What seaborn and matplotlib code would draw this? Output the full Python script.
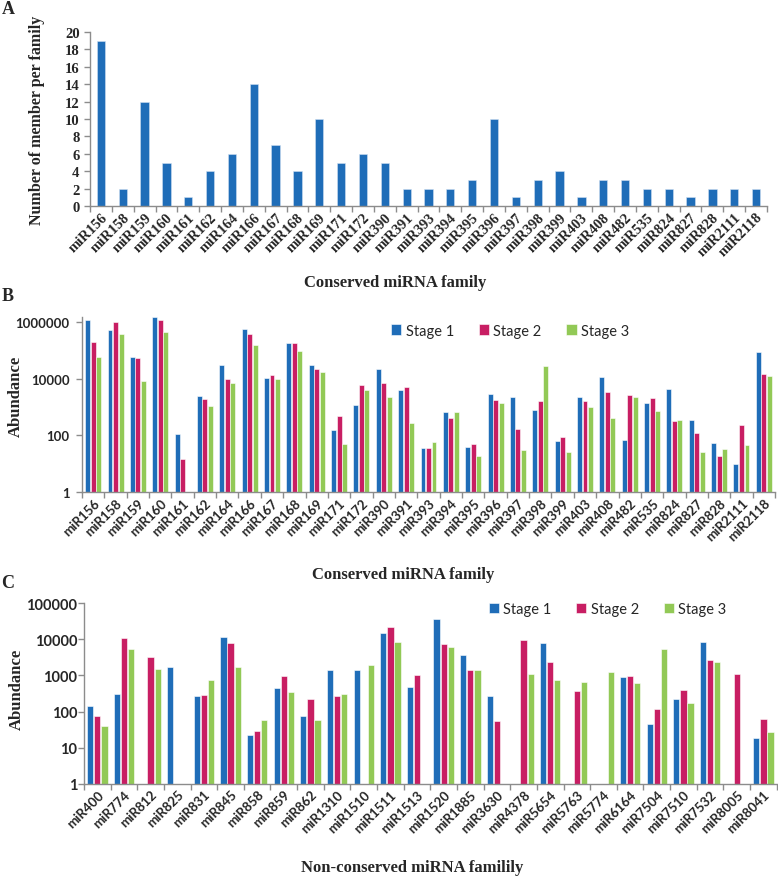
import numpy as np
import pandas as pd
import matplotlib
matplotlib.use("Agg")
import matplotlib.pyplot as plt
import seaborn as sns
from matplotlib.ticker import NullLocator

# panel A: members per conserved family
families_a = ["miR156", "miR158", "miR159", "miR160", "miR161", "miR162", "miR164",
              "miR166", "miR167", "miR168", "miR169", "miR171", "miR172", "miR390",
              "miR391", "miR393", "miR394", "miR395", "miR396", "miR397", "miR398",
              "miR399", "miR403", "miR408", "miR482", "miR535", "miR824", "miR827",
              "miR828", "miR2111", "miR2118"]
members_a = [19, 2, 12, 5, 1, 4, 6, 14, 7, 4, 10, 5, 6, 5, 2, 2, 2, 3, 10, 1, 3,
             4, 1, 3, 3, 2, 2, 1, 2, 2, 2]

# panel B: abundance of conserved families per stage
stage1_b = [1.2e6, 5.5e5, 5.8e4, 1.5e6, 114, 2400, 31000, 5.6e5, 11000, 1.86e5,
            31000, 158, 1200, 23000, 4100, 35, 700, 39, 2800, 2300, 780, 63, 2200,
            12000, 69, 1400, 4400, 350, 55, 10, 92000]
stage2_b = [2.0e5, 1.0e6, 5.4e4, 1.2e6, 15, 1960, 9700, 4.0e5, 14000, 1.86e5,
            22000, 480, 6100, 7200, 5200, 35, 420, 49, 1800, 172, 1600, 85, 1600,
            3400, 2600, 2100, 320, 124, 18, 225, 15000]
stage3_b = [6.0e4, 3.7e5, 8700, 4.4e5, 0, 1100, 7200, 1.6e5, 9500, 1.0e5, 18000,
            51, 4200, 2200, 272, 58, 650, 18, 1400, 30, 28000, 26, 1050, 400, 2300,
            720, 340, 27, 33, 47, 13000]

# panel C: abundance of non-conserved families per stage
families_c = ["miR400", "miR774", "miR812", "miR825", "miR831", "miR845", "miR858",
              "miR859", "miR862", "miR1310", "miR1510", "miR1511", "miR1513",
              "miR1520", "miR1885", "miR3630", "miR4378", "miR5654", "miR5763",
              "miR5774", "miR6164", "miR7504", "miR7510", "miR7532", "miR8005",
              "miR8041"]
stage1_c = [147, 310, 0, 1700, 270, 11800, 22, 445, 76, 1400, 1400, 15000, 485,
            36000, 3800, 268, 0, 8100, 0, 0, 880, 45, 220, 8300, 0, 18]
stage2_c = [73, 11000, 3200, 0, 296, 7900, 28, 960, 220, 272, 0, 22000, 1000, 7400,
            1400, 53, 9800, 2400, 366, 0, 980, 114, 383, 2700, 1100, 61]
stage3_c = [41, 5300, 1500, 0, 760, 1700, 57, 345, 57, 297, 1950, 8700, 0, 6100,
            1440, 0, 1090, 740, 650, 1240, 610, 5400, 174, 2300, 0, 27]

stages = ["Stage 1", "Stage 2", "Stage 3"]
palette = {"Stage 1": "#1f6db8", "Stage 2": "#c81e63", "Stage 3": "#92c956"}
grey = "#8c8c8c"

sns.set_theme(style="white")
plt.rcParams["font.family"] = ["Liberation Serif", "DejaVu Serif"]

W, H = 778, 879
fig = plt.figure(figsize=(W / 100, H / 100), dpi=100)


def axes_px(x0, y0, x1, y1):
    return fig.add_axes([x0 / W, 1 - y1 / H, (x1 - x0) / W, (y1 - y0) / H])


def long_frame(families, s1, s2, s3):
    return pd.DataFrame({
        "family": families * 3,
        "stage": [stages[0]] * len(families) + [stages[1]] * len(families)
                 + [stages[2]] * len(families),
        "abundance": s1 + s2 + s3,
    })


def style_axes(ax, n):
    for side in ["top", "right"]:
        ax.spines[side].set_visible(False)
    for side in ["left", "bottom"]:
        ax.spines[side].set_color(grey)
        ax.spines[side].set_linewidth(1.0)
    ax.set_xlim(-0.5, n - 0.5)
    ax.set_xticks(np.arange(-0.5, n, 1), minor=True)
    ax.tick_params(axis="x", which="minor", bottom=True, length=4, color=grey, width=1)
    ax.tick_params(axis="x", which="major", length=0, pad=3)
    ax.tick_params(axis="y", which="major", left=True, length=4, color=grey, width=1)
    ax.set_xlabel("")
    ax.set_ylabel("")


# ---- A ----
axA = axes_px(90, 33, 767, 207)
dfA = pd.DataFrame({"family": families_a, "members": members_a})
sns.barplot(data=dfA, x="family", y="members", color="#1f6db8", width=0.38,
            edgecolor="#cfe0f2", linewidth=0.4, saturation=1, ax=axA)
style_axes(axA, len(families_a))
axA.set_ylim(0, 20)
axA.set_yticks(range(0, 21, 2))
axA.set_yticklabels([str(v) for v in range(0, 21, 2)], fontsize=10.5, fontweight="bold")
axA.set_xticks(range(len(families_a)))
axA.set_xticklabels(families_a, rotation=45, ha="right", va="top",
                    rotation_mode="anchor", fontsize=10.5, fontweight="bold")

# ---- B ----
axB = axes_px(82, 317.5, 775, 493)
sns.barplot(data=long_frame(families_a, stage1_b, stage2_b, stage3_b), x="family",
            y="abundance", hue="stage", palette=palette, width=0.74, gap=0.1,
            edgecolor="white", linewidth=0.4, saturation=1, ax=axB)
style_axes(axB, len(families_a))
axB.set_yscale("log")
axB.set_ylim(1, 1.6e6)
axB.yaxis.set_minor_locator(NullLocator())
axB.set_yticks([1, 100, 10000, 1000000])
axB.set_yticklabels(["1", "100", "10000", "1000000"], fontsize=9.5,
                    fontweight="bold", family="Lato")
axB.tick_params(axis="y", pad=5)
axB.set_xticks(range(len(families_a)))
axB.set_xticklabels(families_a, rotation=45, ha="right", va="top",
                    rotation_mode="anchor", fontsize=9.5, fontweight="bold",
                    family="Lato")
sns.move_legend(axB, "center", bbox_to_anchor=(0.618, 0.92), ncol=3, frameon=False,
                title=None, handlelength=0.7, handleheight=0.7,
                handletextpad=0.3, columnspacing=1.7, prop={"family": "Lato", "size": 10.5})
axB.set_xlabel("")

# ---- C ----
axC = axes_px(84, 604.3, 776.7, 784.7)
sns.barplot(data=long_frame(families_c, stage1_c, stage2_c, stage3_c), x="family",
            y="abundance", hue="stage", palette=palette, width=0.8, gap=0.12,
            edgecolor="white", linewidth=0.4, saturation=1, ax=axC)
style_axes(axC, len(families_c))
axC.set_yscale("log")
axC.set_ylim(1, 1e5)
axC.yaxis.set_minor_locator(NullLocator())
c_ticks = [1, 10, 100, 1000, 10000, 100000]
axC.set_yticks(c_ticks)
axC.set_yticklabels([str(v) for v in c_ticks], fontsize=10.5, fontweight="bold",
                    family="Lato")
axC.tick_params(axis="y", pad=1)
axC.set_xticks(range(len(families_c)))
axC.set_xticklabels(families_c, rotation=45, ha="right", va="top",
                    rotation_mode="anchor", fontsize=9.5, fontweight="bold",
                    family="Lato")
sns.move_legend(axC, "center", bbox_to_anchor=(0.756, 0.968), ncol=3, frameon=False,
                title=None, handlelength=0.7, handleheight=0.7,
                handletextpad=0.3, columnspacing=1.7, prop={"family": "Lato", "size": 10.5})
axC.set_xlabel("")

# ---- texts ----
def ftext(x, y, s, **kw):
    fig.text(x / W, 1 - y / H, s, ha="center", va="center", fontweight="bold", **kw)

ftext(8, 10, "A", fontsize=13)
ftext(8, 297, "B", fontsize=13)
ftext(8, 583, "C", fontsize=13)
ftext(37, 120, "Number of member per family", fontsize=11.5, rotation=90)
ftext(16, 396, "Abundance", fontsize=12, rotation=90)
ftext(17, 689, "Abundance", fontsize=12, rotation=90)
ftext(395, 283, "Conserved miRNA family", fontsize=12)
ftext(403, 575, "Conserved miRNA family", fontsize=12)
ftext(412, 868, "Non-conserved miRNA familily", fontsize=12)

fig.savefig("out.png", dpi=100)
